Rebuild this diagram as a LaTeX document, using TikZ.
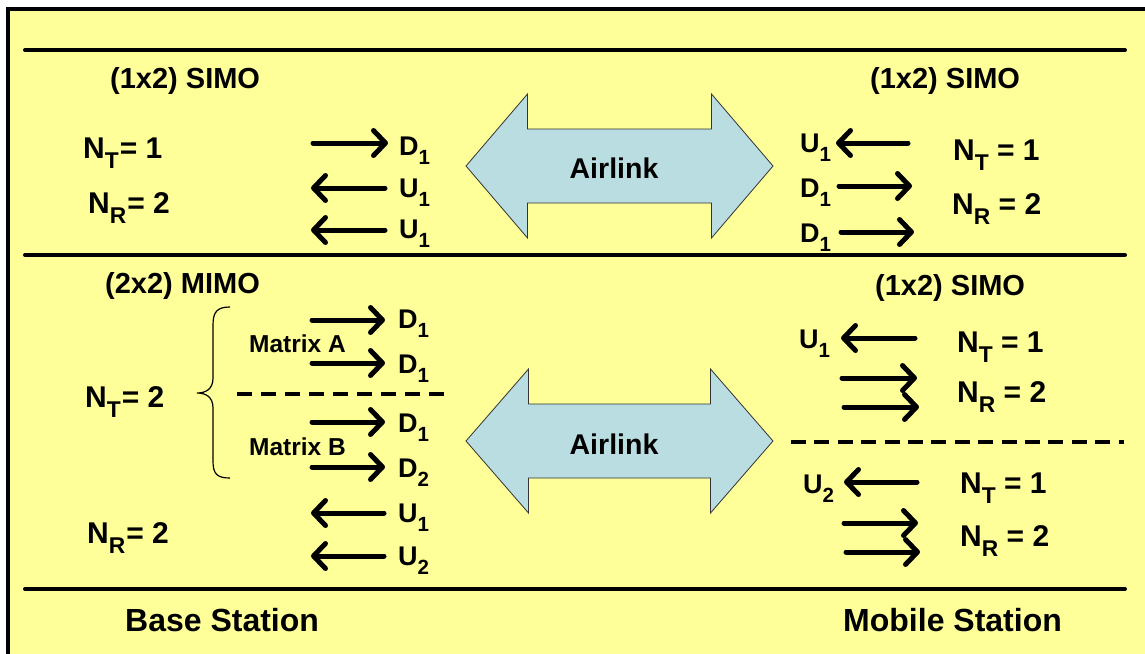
\documentclass[tikz,border=0pt]{standalone}
\usepackage{fontspec}
\usepackage{graphicx}
\setmainfont{Liberation Sans}
\usetikzlibrary{arrows.meta}

% lowered, reduced index (N_T, D_1, ...)
\newcommand\sub[1]{\raisebox{-0.36em}{\scalebox{0.76}{#1}}}

\definecolor{pad}{HTML}{FFFF99}
\definecolor{airblue}{HTML}{B9DDE0}

\tikzset{
  every node/.style={inner sep=0pt},
  heading/.style={anchor=base west, font=\fontsize{29}{31}\selectfont\bfseries},
  param/.style={anchor=base west, font=\fontsize{30}{32}\selectfont\bfseries},
  stream/.style={anchor=base west, font=\fontsize{27}{29}\selectfont\bfseries},
  matrixlabel/.style={anchor=base west, font=\fontsize{24.5}{26}\selectfont\bfseries},
  station/.style={anchor=base west, font=\fontsize{32}{34}\selectfont\bfseries},
  linktext/.style={font=\fontsize{28.5}{30}\selectfont\bfseries},
  sigline/.style={line width=5pt, line cap=round,
    -{Straight Barb[length=12pt,width=25pt,round,line width=5pt]}},
  rule/.style={line width=4pt, line cap=round},
  splitline/.style={line width=4pt, dash pattern=on 15pt off 9pt},
  airlink/.style={draw=black!80, line width=0.8pt, fill=airblue},
}

\begin{document}
\begin{tikzpicture}[x=1pt,y=-1pt]
\useasboundingbox (0,0) rectangle (1145,653);
\clip (0,0) rectangle (1145,653);

% panel
\draw[line width=4pt, fill=pad] (8,9) rectangle (1160,670);

% section rules
\draw[rule] (25,50) -- (1125,50);
\draw[rule] (25,255) -- (1125,255);
\draw[rule] (25,589) -- (1125,589);

% ---------- upper section: (1x2) SIMO to (1x2) SIMO ----------
\node[heading] (bsA) at (110,88) {(1x2) SIMO};
\node[param] (bsAnt) at (83,158) {N\sub{T}\kern1pt= 1};
\node[param] (bsAnr) at (88,213) {N\sub{R}\kern1pt= 2};

\node[stream] (a1) at (399,155) {D\sub{1}};
\node[stream] (a2) at (399,197) {U\sub{1}};
\node[stream] (a3) at (399,238) {U\sub{1}};
\coordinate (a1s) at (313,143); \coordinate (a1e) at (388,143);
\coordinate (a2s) at (385,188); \coordinate (a2e) at (311,188);
\coordinate (a3s) at (385,230); \coordinate (a3e) at (311,230);
\draw[sigline] (a1s) -- (a1e);
\draw[sigline] (a2s) -- (a2e);
\draw[sigline] (a3s) -- (a3e);

\draw[airlink, shift={(619.5,166)}]
  (-153.5,0) -- (-92,-72) -- (-92,-37) -- (92,-37) -- (92,-72)
  -- (153.5,0) -- (92,72) -- (92,37) -- (-92,37) -- (-92,72) -- cycle;
\node[linktext] (linkA) at (614,168) {Airlink};

\node[heading] (msA) at (870,88) {(1x2) SIMO};
\node[stream] (b1) at (800,152) {U\sub{1}};
\node[stream] (b2) at (800,197) {D\sub{1}};
\node[stream] (b3) at (800,242) {D\sub{1}};
\coordinate (b1s) at (908,143); \coordinate (b1e) at (836,143);
\coordinate (b2s) at (839,186); \coordinate (b2e) at (912,186);
\coordinate (b3s) at (841,232); \coordinate (b3e) at (914,232);
\draw[sigline] (b1s) -- (b1e);
\draw[sigline] (b2s) -- (b2e);
\draw[sigline] (b3s) -- (b3e);
\node[param] (msAnt) at (953,160) {N\sub{T} = 1};
\node[param] (msAnr) at (952,214) {N\sub{R} = 2};

% ---------- lower section: (2x2) MIMO to two (1x2) SIMO ----------
\node[heading] (bsB) at (105,293) {(2x2) MIMO};
\node[param] (bsBnt) at (85,407) {N\sub{T}\kern1pt= 2};
\node[param] (bsBnr) at (87,543) {N\sub{R}\kern1pt= 2};

\draw[line width=1.2pt]
  (230,307) .. controls (217,307) and (213,312) .. (213,325) -- (213,378)
  .. controls (213,389) and (206,393) .. (197,393)
  .. controls (206,393) and (213,397) .. (213,408) -- (213,461)
  .. controls (213,474) and (217,478) .. (230,478);

\node[matrixlabel] (mA) at (249,352) {Matrix A};
\node[matrixlabel] (mB) at (249,455) {Matrix B};

\node[stream] (c1) at (398,328) {D\sub{1}};
\node[stream] (c2) at (398,373) {D\sub{1}};
\node[stream] (c3) at (398,432) {D\sub{1}};
\node[stream] (c4) at (398,477) {D\sub{2}};
\node[stream] (c5) at (398,522) {U\sub{1}};
\node[stream] (c6) at (398,565) {U\sub{2}};
\coordinate (c1s) at (312,320); \coordinate (c1e) at (385,320);
\coordinate (c2s) at (312,363); \coordinate (c2e) at (385,363);
\coordinate (c3s) at (312,422); \coordinate (c3e) at (385,422);
\coordinate (c4s) at (312,467); \coordinate (c4e) at (385,467);
\coordinate (c5s) at (384,513); \coordinate (c5e) at (311,513);
\coordinate (c6s) at (384,556); \coordinate (c6e) at (311,556);
\draw[sigline] (c1s) -- (c1e);
\draw[sigline] (c2s) -- (c2e);
\draw[sigline] (c3s) -- (c3e);
\draw[sigline] (c4s) -- (c4e);
\draw[sigline] (c5s) -- (c5e);
\draw[sigline] (c6s) -- (c6e);

\coordinate (splitL1) at (237,394); \coordinate (splitL2) at (450,394);
\draw[splitline] (splitL1) -- (splitL2);

\draw[airlink, shift={(619.5,441)}]
  (-153.5,0) -- (-91,-72) -- (-91,-37) -- (91,-37) -- (91,-72)
  -- (153.5,0) -- (91,72) -- (91,37) -- (-91,37) -- (-91,72) -- cycle;
\node[linktext] (linkB) at (614,444) {Airlink};

\node[heading] (msB) at (875,295) {(1x2) SIMO};
\node[stream] (d1) at (799,348) {U\sub{1}};
\coordinate (d1s) at (915,338); \coordinate (d1e) at (841,338);
\draw[sigline] (d1s) -- (d1e);
\node[param] (msB1nt) at (957,352) {N\sub{T} = 1};
\coordinate (d2s) at (842,378); \coordinate (d2e) at (917,378);
\coordinate (d3s) at (844,407); \coordinate (d3e) at (919,407);
\draw[sigline] (d2s) -- (d2e);
\draw[sigline] (d3s) -- (d3e);
\node[param] (msB1nr) at (957,402) {N\sub{R} = 2};

\coordinate (splitR1) at (791,442); \coordinate (splitR2) at (1124,442);
\draw[splitline, dash pattern=on 15pt off 8.4pt] (splitR1) -- (splitR2);

\node[stream] (d4) at (803,493) {U\sub{2}};
\coordinate (d4s) at (917,482); \coordinate (d4e) at (844,482);
\draw[sigline] (d4s) -- (d4e);
\node[param] (msB2nt) at (960,493) {N\sub{T} = 1};
\coordinate (d5s) at (844,523); \coordinate (d5e) at (918,523);
\coordinate (d6s) at (846,552); \coordinate (d6e) at (920,552);
\draw[sigline] (d5s) -- (d5e);
\draw[sigline] (d6s) -- (d6e);
\node[param] (msB2nr) at (960,546) {N\sub{R} = 2};

% ---------- station captions ----------
\node[station] (bs) at (125,631) {Base Station};
\node[station] (ms) at (843,631) {Mobile Station};
\end{tikzpicture}
\end{document}
